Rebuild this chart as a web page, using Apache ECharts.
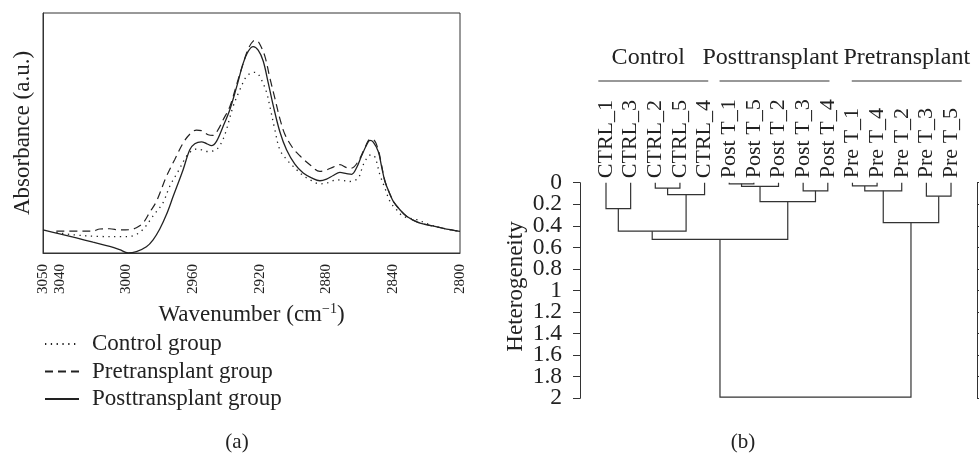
<!DOCTYPE html>
<html>
<head>
<meta charset="utf-8">
<script src="https://cdn.jsdelivr.net/npm/echarts@6/dist/echarts.min.js"></script>
<style>
  html, body { margin: 0; padding: 0; background: #fff; }
  #chart { width: 979px; height: 453px; }
</style>
</head>
<body>
<div id="chart"></div>
<script>
// ---- (a) FTIR spectra, C–H stretching region: [wavenumber cm^-1, absorbance a.u.] ----
const wavenumberTicks = [3050, 3040, 3000, 2960, 2920, 2880, 2840, 2800];

const controlSpectrum = [
  [3042, 8.6], [3032, 7.6], [3016, 6.9], [3002, 6.8], [2996, 7.2], [2992, 8.6],
  [2988, 11.5], [2985, 14.5], [2982, 17.2], [2978, 21], [2974, 27.8], [2969, 34],
  [2964, 40.3], [2961, 42.5], [2958, 43.3], [2955, 43], [2952, 42.3], [2948, 42.5],
  [2945, 43.8], [2942, 47.5], [2940, 51.4], [2936, 61.1], [2932, 68], [2928, 73.6],
  [2925, 75], [2923, 75.3], [2921, 74.5], [2919, 72.2], [2916, 67], [2914, 61.1],
  [2911, 51.4], [2908, 43], [2904, 39], [2900, 36.1], [2895, 32.8], [2890, 30.5],
  [2884, 28.8], [2879, 29.3], [2874, 30.5], [2870, 30.2], [2866, 29.8], [2861, 31.3],
  [2858, 36.8], [2855, 40.3], [2853, 41], [2851, 40], [2848, 32.6], [2845, 27],
  [2842, 21.5], [2838, 18], [2834, 15.3], [2826, 13.9], [2818, 11.8], [2810, 10.3],
  [2800, 9.0]
];

const pretransplantSpectrum = [
  [3042, 9.1], [3030, 9.1], [3020, 9.1], [3016, 10.0], [3010, 10.1], [3004, 9.6],
  [2998, 9.7], [2994, 10.5], [2990, 12.5], [2986, 17], [2982, 21.5], [2976, 31.9],
  [2971, 39], [2966, 45.8], [2962, 49.5], [2958, 51.2], [2955, 51], [2951, 49.3],
  [2948, 49], [2945, 51.4], [2942, 55.5], [2938, 61], [2934, 70], [2930, 79],
  [2927, 85], [2924, 88.3], [2922, 88.6], [2920, 87], [2917, 82], [2914, 73],
  [2911, 64.5], [2908, 56], [2905, 49.5], [2900, 43.5], [2896, 40.5], [2890, 36.8],
  [2884, 34], [2880, 34.6], [2876, 35.8], [2872, 36.8], [2868, 35.6], [2865, 35.4],
  [2861, 38.2], [2857, 43.9], [2854, 47.3], [2852, 47.2], [2849, 43], [2847, 36.5],
  [2845, 30], [2842, 24.5], [2840, 21.5], [2836, 18], [2832, 15.3], [2826, 13],
  [2820, 11.8], [2810, 10.3], [2800, 9.0]
];

const posttransplantSpectrum = [
  [3050, 9.6], [3040, 8.0], [3030, 6.3], [3020, 4.5], [3010, 2.8], [3004, 1.4],
  [2999, 0], [2994, 0.6], [2988, 2.6], [2984, 5.5], [2980, 10], [2976, 16],
  [2972, 23.5], [2966, 34.7], [2962, 43], [2959, 45.5], [2955, 46.3], [2952, 45.6],
  [2949, 44.7], [2946, 46.5], [2942, 52.8], [2938, 59.7], [2934, 69], [2930, 79],
  [2927, 84], [2924, 86], [2921, 84.5], [2918, 80], [2915, 71], [2912, 61.5],
  [2908, 50.5], [2904, 43], [2899, 37], [2894, 33.3], [2889, 31.3], [2884, 30.1],
  [2880, 30.8], [2876, 32.3], [2872, 33.6], [2868, 33.1], [2865, 32.8], [2862, 35.5],
  [2859, 40.5], [2856, 45], [2854, 46.9], [2852, 46.2], [2849, 42.3], [2847, 36],
  [2845, 29.8], [2842, 24.5], [2840, 21.5], [2836, 18], [2832, 15.3], [2826, 13],
  [2820, 11.8], [2810, 10.3], [2800, 9.0]
];

const spectrumNames = ['Control group', 'Pretransplant group', 'Posttransplant group'];

// ---- (b) hierarchical clustering of the spectra ----
const leaves = [
  'CTRL_1', 'CTRL_3', 'CTRL_2', 'CTRL_5', 'CTRL_4',
  'Post T_1', 'Post T_5', 'Post T_2', 'Post T_3', 'Post T_4',
  'Pre T_1', 'Pre T_4', 'Pre T_2', 'Pre T_3', 'Pre T_5'
];
// [childA, childB, heterogeneity]; indices >= leaves.length refer to earlier merges
const merges = [
  [0, 1, 0.24],
  [2, 3, 0.05],
  [16, 4, 0.11],
  [15, 17, 0.45],
  [5, 6, 0.01],
  [19, 7, 0.035],
  [8, 9, 0.075],
  [20, 21, 0.175],
  [18, 22, 0.525],
  [10, 11, 0.03],
  [24, 12, 0.075],
  [13, 14, 0.125],
  [25, 26, 0.37],
  [23, 27, 1.99]
];
const heterogeneityTicks = [0, 0.2, 0.4, 0.6, 0.8, 1, 1.2, 1.4, 1.6, 1.8, 2];
const clusterGroups = [
  { name: 'Control', first: 0, last: 4 },
  { name: 'Posttransplant', first: 5, last: 9 },
  { name: 'Pretransplant', first: 10, last: 14 }
];

const FONT = "'Liberation Serif', 'Times New Roman', serif";
const INK = '#222';
// small horizontal nudges (px) for the group captions and their rules
const captionShift = [-7, -8, 5];
const ruleShift = [-2, -4, 5];

// node positions: leaves sit at their index, merged nodes at the middle of their children
const nodeX = leaves.map((_, i) => i);
const nodeH = leaves.map(() => 0);
const links = merges.map(([a, b, h]) => {
  const link = [nodeX[a], nodeH[a], nodeX[b], nodeH[b], h];
  nodeX.push((nodeX[a] + nodeX[b]) / 2);
  nodeH.push(h);
  return link;
});

const chart = echarts.init(document.getElementById('chart'), null, { renderer: 'canvas' });

const lineBase = { type: 'line', xAxisIndex: 0, yAxisIndex: 0, symbol: 'none', smooth: 0.35, z: 3 };

chart.setOption({
  animation: false,
  backgroundColor: '#fff',
  textStyle: { fontFamily: FONT, color: INK },
  grid: [
    { left: 43, top: 13, width: 417, height: 240, show: true, borderColor: '#333', borderWidth: 1 },
    { left: 580, top: 182.7, width: 390, height: 215.6 },
    { left: 977, top: 182.7, width: 2, height: 215.6 }
  ],
  xAxis: [
    {
      gridIndex: 0, type: 'value', min: 2800, max: 3050, inverse: true,
      axisLine: { show: true, onZero: false, lineStyle: { color: '#333' } },
      axisTick: { show: false }, splitLine: { show: false },
      axisLabel: {
        customValues: wavenumberTicks, rotate: 90, margin: 11,
        showMinLabel: true, showMaxLabel: true,
        formatter: (v) => String(v),
        fontSize: 15, fontFamily: FONT, color: INK
      },
      name: '{t|Wavenumber (cm}{s|−1}{t|)}',
      nameLocation: 'middle', nameGap: 44,
      nameTextStyle: {
        rich: {
          t: { fontSize: 23, fontFamily: FONT, color: INK },
          s: { fontSize: 14, fontFamily: FONT, color: INK, padding: [0, 0, 12, 0] }
        }
      }
    },
    {
      gridIndex: 1, type: 'value', min: -1.055, max: 14.77, position: 'top',
      axisLine: { show: false }, axisTick: { show: false }, splitLine: { show: false },
      axisLabel: {
        customValues: leaves.map((_, i) => i),
        formatter: (v) => leaves[Math.round(v)],
        rotate: 90, margin: 4.5, fontSize: 22, fontFamily: FONT, color: INK
      }
    },
    { gridIndex: 2, type: 'value', show: false, min: 0, max: 1 }
  ],
  yAxis: [
    {
      gridIndex: 0, type: 'value', min: 0, max: 100,
      axisLine: { show: true, onZero: false, lineStyle: { color: '#333' } },
      axisTick: { show: false }, axisLabel: { show: false }, splitLine: { show: false },
      name: 'Absorbance (a.u.)', nameLocation: 'middle', nameGap: 9,
      nameTextStyle: { fontSize: 23, fontFamily: FONT, color: INK }
    },
    {
      // heterogeneity scale of the dendrogram (line, ticks and title)
      gridIndex: 1, type: 'value', min: 0, max: 2, interval: 0.2, inverse: true,
      axisLine: { show: true, onZero: false, lineStyle: { color: '#333', width: 1 } },
      axisTick: { show: true, length: 7, customValues: heterogeneityTicks, lineStyle: { color: '#333' } },
      axisLabel: { show: false },
      splitLine: { show: false },
      name: 'Heterogeneity', nameLocation: 'middle', nameGap: 53,
      nameTextStyle: { fontSize: 23, fontFamily: FONT, color: INK, padding: [0, 0, 0, 8] }
    },
    {
      gridIndex: 2, type: 'value', min: 0, max: 2, interval: 0.2, inverse: true,
      axisLine: { show: true, onZero: false, lineStyle: { color: '#333', width: 1 } },
      axisTick: { show: true, inside: true, length: 4, customValues: heterogeneityTicks, lineStyle: { color: '#333' } },
      axisLabel: { show: false }, splitLine: { show: false }
    },
    {
      // tick labels of the heterogeneity scale, one per tick, none dropped
      gridIndex: 1, type: 'category', position: 'left', inverse: true, boundaryGap: false,
      data: heterogeneityTicks.map(String),
      axisLine: { show: false, onZero: false }, axisTick: { show: false }, splitLine: { show: false },
      axisLabel: { interval: 0, margin: 18, fontSize: 23.5, fontFamily: FONT, color: INK }
    }
  ],
  legend: {
    data: spectrumNames,
    orient: 'vertical', left: 39, top: 327,
    itemWidth: 34, itemHeight: 12, itemGap: 3.5,
    itemStyle: { opacity: 0 },
    textStyle: { fontSize: 23, fontFamily: FONT, color: INK, lineHeight: 24, padding: [0, 0, 0, 8] },
    selectedMode: false
  },
  series: [
    Object.assign({}, lineBase, {
      name: spectrumNames[0], data: controlSpectrum,
      lineStyle: { color: INK, width: 1.3, type: [1.3, 4.5] }
    }),
    Object.assign({}, lineBase, {
      name: spectrumNames[1], data: pretransplantSpectrum,
      lineStyle: { color: INK, width: 1.2, type: [8, 5] }
    }),
    Object.assign({}, lineBase, {
      name: spectrumNames[2], data: posttransplantSpectrum,
      lineStyle: { color: INK, width: 1.3, type: 'solid' }
    }),
    {
      // dendrogram links: each merge is drawn as an inverted U
      type: 'custom', xAxisIndex: 1, yAxisIndex: 1, clip: false,
      data: links,
      renderItem: (params, api) => {
        const xa = api.value(0), ha = api.value(1), xb = api.value(2), hb = api.value(3), h = api.value(4);
        const p = [api.coord([xa, ha]), api.coord([xa, h]), api.coord([xb, h]), api.coord([xb, hb])];
        return {
          type: 'polyline',
          shape: { points: p },
          style: { stroke: '#333', lineWidth: 1.2, fill: null }
        };
      }
    },
    {
      // group captions with their underline, above the leaf labels
      type: 'custom', xAxisIndex: 1, yAxisIndex: 1, clip: false,
      data: clusterGroups.map(g => [g.first, g.last]),
      renderItem: (params, api) => {
        const i = params.dataIndex;
        const g = clusterGroups[i];
        const mid = (api.value(0) + api.value(1)) / 2;
        const c = api.coord([mid, 0]);
        const a = api.coord([mid - 2.23, 0]);
        const b = api.coord([mid + 2.23, 0]);
        const lineY = c[1] - 101.7;
        return {
          type: 'group',
          children: [
            { type: 'line',
              shape: { x1: a[0] + ruleShift[i], y1: lineY, x2: b[0] + ruleShift[i], y2: lineY },
              style: { stroke: '#333', lineWidth: 1.2 } },
            { type: 'text', x: c[0] + captionShift[i], y: lineY - 11,
              style: { text: g.name, font: '24px ' + FONT, fill: INK, align: 'center', verticalAlign: 'bottom' } }
          ]
        };
      }
    }
  ],
  graphic: [
    { type: 'text', x: 237, y: 442, style: { text: '(a)', font: '21px ' + FONT, fill: INK, align: 'center', verticalAlign: 'middle' } },
    { type: 'text', x: 743, y: 442, style: { text: '(b)', font: '21px ' + FONT, fill: INK, align: 'center', verticalAlign: 'middle' } }
  ]
});
</script>
</body>
</html>
